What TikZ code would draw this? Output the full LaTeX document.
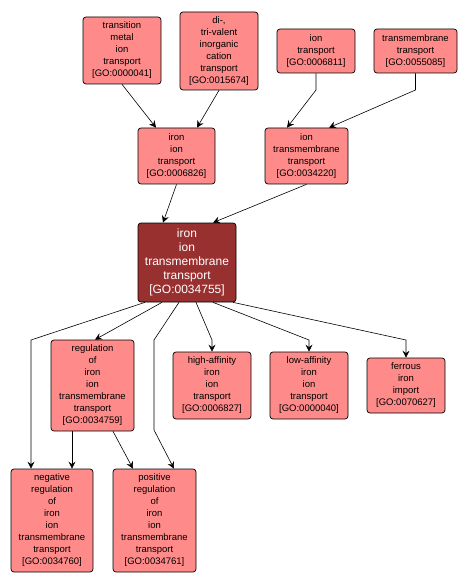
\documentclass[tikz,border=0pt]{standalone}
\usepackage{fontspec}
\setmainfont{Liberation Sans}
\usetikzlibrary{arrows.meta}
\definecolor{gofill}{RGB}{255,138,138}
\definecolor{gomain}{RGB}{153,48,48}
\begin{document}
\begin{tikzpicture}[x=1pt,y=-1pt,
  gobox/.style={draw=black, line width=0.7pt, rounded corners=3pt, fill=gofill,
    align=center, inner sep=0pt, font=\fontsize{9.5}{12}\selectfont},
  mainbox/.style={gobox, fill=gomain, text=white, font=\fontsize{12}{14}\selectfont},
  link/.style={draw=black, line width=0.6pt, -{Stealth[length=7pt,width=7pt,inset=2.5pt]}}]
\useasboundingbox (0,0) rectangle (468,585);
% nodes
\node[gobox, minimum width=78pt, minimum height=67pt] (T1) at (122,50.5) {transition\\metal\\ion\\transport\\{[}GO:0000041{]}};
\node[gobox, minimum width=78pt, minimum height=78pt] (T2) at (219,51) {di-,\\tri-valent\\inorganic\\cation\\transport\\{[}GO:0015674{]}};
\node[gobox, minimum width=78pt, minimum height=44pt] (T3) at (316,51) {ion\\transport\\{[}GO:0006811{]}};
\node[gobox, minimum width=83pt, minimum height=44pt] (T4) at (415.5,51) {transmembrane\\transport\\{[}GO:0055085{]}};
\node[gobox, minimum width=77pt, minimum height=56pt] (I1) at (176.5,156) {iron\\ion\\transport\\{[}GO:0006826{]}};
\node[gobox, minimum width=83pt, minimum height=56pt] (I2) at (306.5,156) {ion\\transmembrane\\transport\\{[}GO:0034220{]}};
\node[mainbox, minimum width=98pt, minimum height=79pt] (M) at (187,262.5) {iron\\ion\\transmembrane\\transport\\{[}GO:0034755{]}};
\node[gobox, minimum width=83pt, minimum height=91pt] (R) at (92.5,385.5) {regulation\\of\\iron\\ion\\transmembrane\\transport\\{[}GO:0034759{]}};
\node[gobox, minimum width=78pt, minimum height=67pt] (H) at (212,385.5) {high-affinity\\iron\\ion\\transport\\{[}GO:0006827{]}};
\node[gobox, minimum width=78pt, minimum height=67pt] (L) at (309,385.5) {low-affinity\\iron\\ion\\transport\\{[}GO:0000040{]}};
\node[gobox, minimum width=78pt, minimum height=55pt] (F) at (406,385.5) {ferrous\\iron\\import\\{[}GO:0070627{]}};
\node[gobox, minimum width=82pt, minimum height=103pt] (N) at (52,520.5) {negative\\regulation\\of\\iron\\ion\\transmembrane\\transport\\{[}GO:0034760{]}};
\node[gobox, minimum width=83pt, minimum height=103pt] (P) at (154.5,520.5) {positive\\regulation\\of\\iron\\ion\\transmembrane\\transport\\{[}GO:0034761{]}};
% bend points
\coordinate (b3) at (316,90);
\coordinate (b4) at (415.5,90);
\coordinate (bN) at (31,340);
\coordinate (bP1) at (154,340);
\coordinate (bP2) at (154,430);
\coordinate (bH) at (212,340);
\coordinate (bL) at (309,340);
\coordinate (bF) at (406,340);
% edges
\draw[link] (T1.south) -- ([xshift=-20.5pt]I1.north);
\draw[link] (T2.south) -- ([xshift=20.5pt]I1.north);
\draw[link] (T3.south) -- (b3) -- ([xshift=-19.5pt]I2.north);
\draw[link] (T4.south) -- (b4) -- ([xshift=22.5pt]I2.north);
\draw[link] (I1.south) -- ([xshift=-24pt]M.north);
\draw[link] (I2.south) -- ([xshift=26pt]M.north);
\draw[link] ([xshift=-42pt]M.south) -- (bN) -- ([xshift=-21pt]N.north);
\draw[link] ([xshift=-25pt]M.south) -- ([xshift=2.5pt]R.north);
\draw[link] ([xshift=-8pt]M.south) -- (bP1) -- (bP2) -- ([xshift=19.5pt]P.north);
\draw[link] ([xshift=9pt]M.south) -- (bH) -- (H.north);
\draw[link] ([xshift=26pt]M.south) -- (bL) -- (L.north);
\draw[link] ([xshift=46pt]M.south) -- (bF) -- (F.north);
\draw[link] ([xshift=-20.5pt]R.south) -- ([xshift=20pt]N.north);
\draw[link] ([xshift=20.5pt]R.south) -- ([xshift=-21.5pt]P.north);
\end{tikzpicture}
\end{document}
